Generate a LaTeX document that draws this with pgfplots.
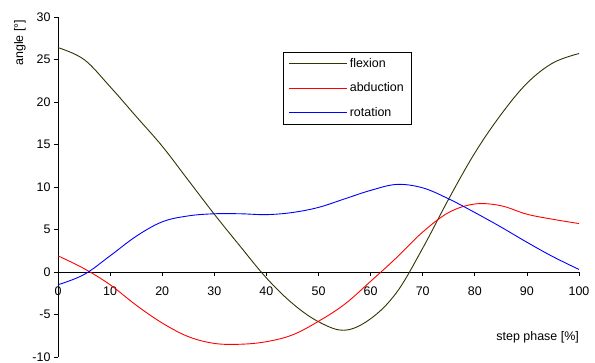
\documentclass[border=0pt]{standalone}
\usepackage{fontspec}
\setmainfont{Liberation Sans}
\usepackage{pgfplots}
\pgfplotsset{compat=1.18}
\definecolor{flexcol}{RGB}{51,51,0}
\definecolor{abdcol}{RGB}{255,0,0}
\definecolor{rotcol}{RGB}{0,0,255}
\begin{document}
\begin{tikzpicture}
\begin{axis}[
  scale only axis, width=521bp, height=340bp,
  xmin=0, xmax=100, ymin=-10, ymax=30,
  axis x line=middle, axis y line=left,
  axis line style={-, line width=0.8bp, black},
  xtick={0,10,...,100}, ytick={-10,-5,...,30},
  tick align=outside, major tick length=4bp,
  tick style={black, line width=0.8bp},
  hide obscured x ticks=false,
  font=\fontsize{12.5}{14}\selectfont,
  /pgf/number format/assume math mode=true,
  x tick label style={yshift=-7bp},
  xlabel={step phase [\%]},
  xlabel style={at={(axis description cs:1,0.0587)}, anchor=east, inner sep=0pt},
  ylabel={angle [°]},
  ylabel style={at={(axis description cs:-0.073,0.924)}, anchor=center, inner sep=0pt},
  legend style={at={(axis description cs:0.431,0.897)}, anchor=north west, draw=black, line width=0.8bp, font=\fontsize{12.5}{14}\selectfont, row sep=10bp, inner xsep=6bp, inner ysep=4bp},
  legend cell align=left,
  legend image code/.code={\draw[#1] (0bp,0bp) -- (58bp,0bp);},
  every axis plot/.append style={line width=0.9bp, smooth, tension=0.6},
]
\coordinate (bl) at (rel axis cs:0,0);
\addplot[flexcol] coordinates {
(0,26.4) (5,25.0) (10,21.8) (15,18.3) (20,14.8) (25,10.8) (30,6.8) (35,3.0) (40,-0.7) (45,-3.7) (50,-5.85) (55,-6.85) (60,-5.5) (65,-2.4) (70,2.8) (75,8.6) (80,14.0) (85,18.5) (90,22.2) (95,24.6) (100,25.7)};
\addlegendentry{flexion}
\addplot[abdcol] coordinates {
(0,1.9) (5,0.4) (10,-1.5) (15,-3.9) (20,-6.0) (25,-7.6) (30,-8.4) (35,-8.5) (40,-8.2) (45,-7.4) (50,-5.8) (55,-3.8) (60,-1.1) (65,1.7) (70,4.7) (75,7.0) (80,8.0) (85,7.8) (90,6.8) (95,6.2) (100,5.7)};
\addlegendentry{abduction}
\addplot[rotcol] coordinates {
(0,-1.5) (5,-0.3) (10,1.9) (15,4.2) (20,5.9) (25,6.6) (30,6.85) (35,6.85) (40,6.75) (45,7.0) (50,7.6) (55,8.6) (60,9.6) (65,10.3) (70,9.9) (75,8.6) (80,7.0) (85,5.3) (90,3.5) (95,1.8) (100,0.3)};
\addlegendentry{rotation}
\end{axis}
\pgfresetboundingbox
\path[use as bounding box] ([shift={(-58bp,-6bp)}]bl) rectangle ([shift={(537bp,357bp)}]bl);
\end{tikzpicture}
\end{document}
